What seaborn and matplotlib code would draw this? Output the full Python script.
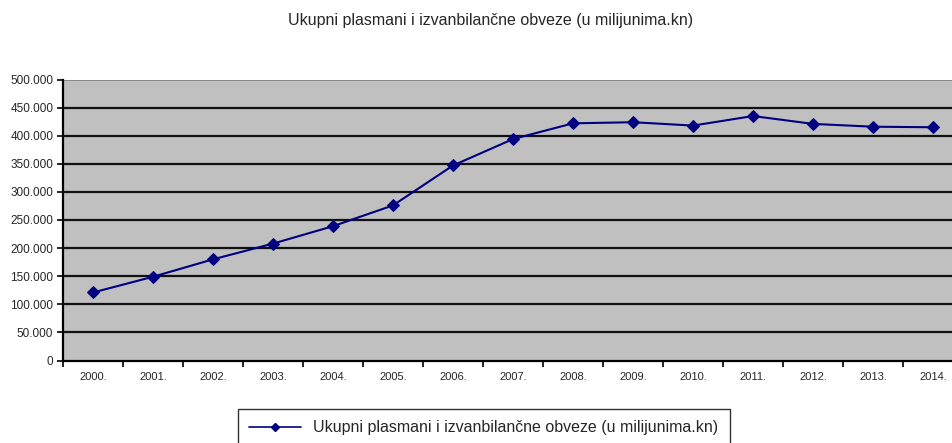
import matplotlib
matplotlib.use("agg")
import matplotlib.pyplot as plt
from matplotlib.ticker import FuncFormatter, FixedLocator
from matplotlib.lines import Line2D
import seaborn as sns
import pandas as pd

# godine i vrijednosti (u milijunima kn)
godine = ["2000.", "2001.", "2002.", "2003.", "2004.", "2005.", "2006.", "2007.",
          "2008.", "2009.", "2010.", "2011.", "2012.", "2013.", "2014."]
plasmani = [121000, 149000, 180000, 208000, 239000, 276000, 347000, 394000,
            422000, 424000, 418000, 435000, 421000, 416000, 415000]
y_ticks = [0, 50000, 100000, 150000, 200000, 250000, 300000, 350000, 400000, 450000, 500000]

naslov = "Ukupni plasmani i izvanbilančne obveze (u milijunima.kn)"
oznaka = "Ukupni plasmani i izvanbilančne obveze (u milijunima.kn)"

sns.set_style("white")
plt.rcParams["font.family"] = ["Liberation Sans", "DejaVu Sans"]

df = pd.DataFrame({"godina": godine, "iznos": plasmani})

fig = plt.figure(figsize=(9.52, 4.43), dpi=100)
ax = fig.add_axes([63 / 952, 1 - 360.5 / 443, 900 / 952, 281 / 443])
ax.set_facecolor("#c0c0c0")

sns.lineplot(data=df, x="godina", y="iznos", ax=ax, color="#000080", linewidth=1.5,
             marker="D", markersize=6.5, markeredgecolor="#000080", sort=False)

ax.set_xlim(-0.5, len(godine) - 0.5)
ax.set_ylim(0, 500000)
ax.yaxis.set_major_locator(FixedLocator(y_ticks))
ax.yaxis.set_major_formatter(FuncFormatter(lambda v, p: f"{int(v):,}".replace(",", ".")))
for t in y_ticks[1:-1]:
    ax.axhline(t, color="#111111", linewidth=1.6, zorder=1)
ax.axhline(500000, color="#808080", linewidth=1.2, zorder=1)

ax.set_xticks(range(len(godine)))
ax.set_xticklabels(godine, fontsize=8)
ax.set_xticks([i - 0.5 for i in range(len(godine) + 1)], minor=True)
ax.tick_params(axis="x", which="major", length=0, pad=8)
ax.tick_params(axis="x", which="minor", length=4, width=1.2, direction="out", color="black")
ax.tick_params(axis="y", length=4, width=1.2, direction="out", color="black", labelsize=8.5, pad=3)
ax.yaxis.set_ticks_position("left")
ax.xaxis.set_ticks_position("bottom")

for s in ["top", "right"]:
    ax.spines[s].set_visible(False)
ax.spines["left"].set_color("black")
ax.spines["left"].set_linewidth(1.6)
ax.spines["bottom"].set_color("black")
ax.spines["bottom"].set_linewidth(1.6)
ax.set_xlabel("")
ax.set_ylabel("")

fig.text(491 / 952, 1 - 20 / 443, naslov, ha="center", va="center", fontsize=11.5)

handle = Line2D([], [], color="#000080", linewidth=1.2, marker="D", markersize=4.5)
leg = fig.legend([handle], [oznaka], loc="upper center", bbox_to_anchor=(484 / 952, 1 - 409 / 443),
                 frameon=True, fancybox=False, fontsize=11.5, handlelength=3.2,
                 borderpad=0.7, borderaxespad=0, edgecolor="black")
leg.get_frame().set_linewidth(1.0)

fig.savefig("out.png", dpi=100)
